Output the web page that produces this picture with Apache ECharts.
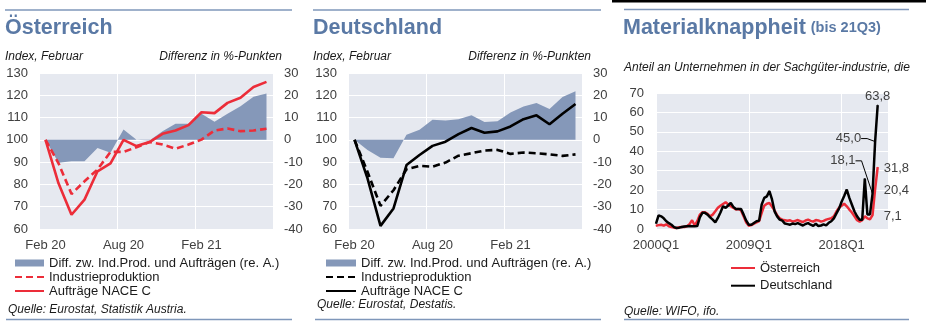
<!DOCTYPE html>
<html><head><meta charset="utf-8">
<script src="https://cdn.jsdelivr.net/npm/echarts@6/dist/echarts.min.js"></script>
<style>html,body{margin:0;padding:0;background:#fff}#c{width:926px;height:326px}</style>
</head><body><div id="c"></div>
<script>
// ---------- data ----------
const months = ['Feb 20','Mär 20','Apr 20','Mai 20','Jun 20','Jul 20','Aug 20','Sep 20','Okt 20','Nov 20','Dez 20','Jän 21','Feb 21','Mär 21','Apr 21','Mai 21','Jun 21','Jul 21'];
const monthTicks = ['Feb 20','Aug 20','Feb 21'];

const atOrders = [100, 80.5, 66.4, 73.2, 85.9, 89.4, 100, 97.2, 99, 102.7, 104.2, 106.6, 112.4, 112, 116.6, 118.9, 123.7, 126];
const atProd   = [100, 89.5, 75.7, 81.4, 86.7, 94.6, 94.6, 96.7, 99, 97.9, 96, 97.9, 100.1, 104.2, 105.1, 103.9, 104.2, 105];
const atDiff   = [0, -10.3, -9.6, -9.6, -3.6, -5.8, 4.6, 0.1, -0.3, 3.9, 7.2, 7.2, 11.7, 8.1, 11.7, 15.1, 19.3, 20.8];

const deOrders = [100, 82.7, 61.4, 69.2, 88.7, 93.2, 97.3, 99.2, 102.6, 105.3, 103.2, 103.8, 106, 109.3, 111, 107, 111.7, 116.1];
const deProd   = [100, 85.7, 70.4, 77.4, 86.8, 88.3, 88, 89.8, 92.9, 94, 95.2, 95.5, 93.7, 94.3, 94, 93.5, 92.8, 93.5];
const deDiff   = [0, -4.5, -8, -8.3, 2.3, 4.5, 9, 8.7, 9.3, 11, 8, 8.3, 12.3, 15, 16.5, 13.8, 19.2, 21.8];

const leftAxisTicks = [60, 130, 10];   // min, max, step
const rightAxisTicks = [-40, 30, 10];

// quarters 2000Q1 .. 2022Q3 (axis extends past last observation 2021Q3)
const quarters = [];
for (let y = 2000; y <= 2022; y++) for (let q = 1; q <= 4; q++) { if (y === 2022 && q > 3) break; quarters.push(y + 'Q' + q); }
const quarterTicks = ['2000Q1','2009Q1','2018Q1'];

const matAT = [1.7, 2, 2.2, 1.7, 2.4, 1.4, 1, 0.7, 0.5, 0.9,
  1, 1, 1.4, 2.5, 4.5, 1.8, 4, 7.4, 8.6, 8.6,
  7.8, 6.5, 7.4, 9.1, 10.9, 12, 12.9, 13.8, 12.6, 11.7,
  10.9, 10, 10.3, 9.5, 6.5, 3.4, 1.7, 2, 2.8, 3.4,
  4, 8.3, 12, 13, 13.4, 11.5, 9.5, 7, 5.5, 4.8,
  4.5, 4.2, 4.5, 3.8, 4.2, 4.6, 4.0, 3.6, 4.4, 4.8,
  4.2, 3.8, 4.6, 4.4, 3.8, 4.2, 4.8, 5.2, 5.5, 6.5,
  9, 11, 12, 13, 11.7, 10, 8.5, 6.5, 4.5, 3.8,
  4.5, 6.5, 5.5, 5, 7.1, 20.4, 31.8];
const matDE = [2.8, 7, 6.5, 5.5, 4, 3, 2.2, 1, 0.5, 0.7,
  1, 1.3, 1.4, 1.5, 1.4, 1.4, 1.5, 6, 8.3, 8.3,
  7.4, 6, 4.8, 3.4, 5.7, 8.5, 11.7, 10.9, 12.1, 13.4,
  11.4, 10.3, 10.3, 10.3, 7.4, 4.3, 2.2, 2.2, 3.1, 4,
  4.3, 12.6, 16, 16.8, 19.5, 15.2, 9.1, 6.5, 4.8, 4.3,
  2.8, 2.5, 2.2, 2.8, 2.5, 3.0, 2.4, 1.8, 2.6, 3.0,
  2.2, 1.6, 2.7, 1.5, 1.8, 2.4, 1.9, 3.2, 4, 5.5,
  8, 10.5, 14, 17, 20.3, 16, 12.5, 9, 6.5, 4.8,
  4.8, 26, 7.5, 7.5, 18.1, 45.0, 63.8];
const matTicks = [0, 70, 10];

const namesDiff = 'Diff. zw. Ind.Prod. und Aufträgen (re. A.)';
const nameProd = 'Industrieproduktion';
const nameOrd = 'Aufträge NACE C';

// ---------- style ----------
const FONT = '"Liberation Sans", Arial, sans-serif';
const RED = '#ec2d39';
const AREA = '#8598b9';
const BG = '#e6e9f0';
const TITLE = '#5a79a5';
const RULE = '#7f97ba';
const AX = '#404040';

const chart = echarts.init(document.getElementById('c'), null, {renderer: 'canvas'});
const fmt = v => v.toFixed(1).replace('.', ',');

function grid(left, top, width, height) {
  return {left, top, width, height, show: true, backgroundColor: BG, borderWidth: 0, containLabel: false, outerBoundsMode: 'none'};
}
function catAxis(gi, data, interval, boundaryGap) {
  return {type: 'category', gridIndex: gi, data, boundaryGap,
    axisLine: {show: false}, axisTick: {show: false},
    axisLabel: {interval, color: AX, fontSize: 13, fontFamily: FONT, margin: 10},
    splitLine: {show: true, interval, lineStyle: {color: '#ffffff', width: 1}}};
}
function valAxis(gi, t, position, split) {
  return {type: 'value', gridIndex: gi, min: t[0], max: t[1], interval: t[2], position,
    axisLine: {show: false}, axisTick: {show: false},
    axisLabel: {color: AX, fontSize: 13, fontFamily: FONT, margin: 11},
    splitLine: {show: split, lineStyle: {color: '#ffffff', width: 1}}};
}
function areaSeries(name, gi, data) {
  return {name, type: 'line', xAxisIndex: gi, yAxisIndex: gi * 2 + 1, data, symbol: 'none',
    itemStyle: {color: AREA}, lineStyle: {width: 0, color: AREA},
    areaStyle: {color: AREA, opacity: 1}, z: 1, silent: true};
}
function lineSeries(name, gi, data, color, dashed) {
  return {name, type: 'line', xAxisIndex: gi, yAxisIndex: gi * 2, data, symbol: 'none',
    itemStyle: {color}, lineStyle: {color, width: 2.6, type: dashed ? [7, 4] : 'solid'}, z: 3, silent: true};
}

const txt = (text, left, top, size, extra) => ({text, left, top, padding: 0,
  textStyle: Object.assign({fontFamily: FONT, fontSize: size, fontWeight: 'normal', color: '#1a1a1a'}, extra || {})});
const txtR = (text, right, top, size, extra) => ({text, right, top, padding: 0,
  textStyle: Object.assign({fontFamily: FONT, fontSize: size, fontWeight: 'normal', color: '#1a1a1a'}, extra || {})});

const titles = [
  txt('Österreich', 5, 17, 21.5, {fontWeight: 'bold', color: TITLE}),
  txt('Index, Februar', 5, 51, 12, {fontStyle: 'italic'}),
  txtR('Differenz in %-Punkten', 644, 51, 12, {fontStyle: 'italic'}),
  txt('Quelle: Eurostat, Statistik Austria.', 8, 304, 12, {fontStyle: 'italic'}),

  txt('Deutschland', 313, 17, 21.5, {fontWeight: 'bold', color: TITLE}),
  txt('Index, Februar', 313, 51, 12, {fontStyle: 'italic'}),
  txtR('Differenz in %-Punkten', 335, 51, 12, {fontStyle: 'italic'}),
  txt('Quelle: Eurostat, Destatis.', 317, 299, 12, {fontStyle: 'italic'}),

  {text: '{a|Materialknappheit} {b|(bis 21Q3)}', left: 623, top: 17, padding: 0,
    textStyle: {fontFamily: FONT, rich: {
      a: {fontFamily: FONT, fontSize: 21.5, fontWeight: 'bold', color: TITLE},
      b: {fontFamily: FONT, fontSize: 14.5, fontWeight: 'bold', color: TITLE}}}},
  txt('Anteil an Unternehmen in der Sachgüter-industrie, die', 624, 62, 12, {fontStyle: 'italic'}),
  txt('Quelle: WIFO, ifo.', 624, 306, 12, {fontStyle: 'italic'})
];

const lastIdx = matDE.length - 1;
const deMatData = matDE.map((v, i) => i < lastIdx - 2 ? v : {
  value: v,
  label: {show: true, position: i === lastIdx ? 'top' : 'left', distance: 2},
  labelLine: {show: i !== lastIdx}
});
const atMatData = matAT.map((v, i) => i < lastIdx - 2 ? v : {
  value: v, label: {show: true, position: 'right', distance: 6}
});

const noSym = {opacity: 0};
const legendText = {fontFamily: FONT, fontSize: 13, color: '#1a1a1a', lineHeight: 14};

const option = {
  animation: false,
  textStyle: {fontFamily: FONT},
  title: titles,
  grid: [grid(39, 73, 234, 156), grid(348, 73, 234, 156), grid(656, 93, 232, 136)],
  xAxis: [catAxis(0, months, 5, true), catAxis(1, months, 5, true), catAxis(2, quarters, 35, false)],
  yAxis: [
    valAxis(0, leftAxisTicks, 'left', true), valAxis(0, rightAxisTicks, 'right', false),
    valAxis(1, leftAxisTicks, 'left', true), valAxis(1, rightAxisTicks, 'right', false),
    Object.assign(valAxis(2, matTicks, 'left', true), {axisLabel: {color: AX, fontSize: 13, fontFamily: FONT, margin: 12}})
  ],
  legend: [
    {left: 14, top: 256, orient: 'vertical', itemWidth: 29, itemHeight: 7, itemGap: 0, padding: 0, selectedMode: false,
      textStyle: legendText,
      data: [{name: namesDiff, icon: 'rect'}, {name: nameProd, itemStyle: noSym}, {name: nameOrd, itemStyle: noSym}]},
    {left: 325, top: 256, orient: 'vertical', itemWidth: 30, itemHeight: 7, itemGap: 0, padding: 0, selectedMode: false,
      textStyle: legendText,
      data: [{name: namesDiff + ' ', icon: 'rect'}, {name: nameProd + ' ', itemStyle: noSym}, {name: nameOrd + ' ', itemStyle: noSym}]},
    {left: 730, top: 261, orient: 'vertical', itemWidth: 24, itemHeight: 7, itemGap: 3.7, padding: 0, selectedMode: false,
      textStyle: legendText,
      data: [{name: 'Österreich', itemStyle: noSym}, {name: 'Deutschland', itemStyle: noSym}]}
  ],
  series: [
    areaSeries(namesDiff, 0, atDiff),
    lineSeries(nameProd, 0, atProd, RED, true),
    lineSeries(nameOrd, 0, atOrders, RED, false),
    areaSeries(namesDiff + ' ', 1, deDiff),
    lineSeries(nameProd + ' ', 1, deProd, '#000000', true),
    lineSeries(nameOrd + ' ', 1, deOrders, '#000000', false),
    {name: 'Österreich', type: 'line', xAxisIndex: 2, yAxisIndex: 4, data: atMatData,
      symbol: 'circle', symbolSize: 1, showSymbol: true, showAllSymbol: true,
      itemStyle: {color: RED}, lineStyle: {color: RED, width: 2.5}, z: 3, silent: true,
      label: {show: false, color: AX, fontSize: 13, fontFamily: FONT, formatter: p => fmt(p.value)},
      labelLayout: function (p) {
        const endX = chart.convertToPixel({xAxisIndex: 2}, quarters[lastIdx]);
        return {x: endX + 6, y: p.rect.y + p.rect.height / 2 + 1, align: 'left', verticalAlign: 'middle'};
      }},
    {name: 'Deutschland', type: 'line', xAxisIndex: 2, yAxisIndex: 4, data: deMatData,
      symbol: 'circle', symbolSize: 1, showSymbol: true, showAllSymbol: true,
      itemStyle: {color: '#000'}, lineStyle: {color: '#000', width: 2.5}, z: 4, silent: true,
      label: {show: false, color: AX, fontSize: 13, fontFamily: FONT, formatter: p => fmt(p.value)},
      labelLine: {show: true, length2: 6, lineStyle: {color: '#000', width: 1}},
      labelLayout: function (p) {
        const cx = p.rect.x + p.rect.width / 2, cy = p.rect.y + p.rect.height / 2;
        if (p.dataIndex === lastIdx - 1) return {x: cx - 14, y: cy - 3, align: 'right', verticalAlign: 'middle'};
        if (p.dataIndex === lastIdx - 2) return {x: cx - 17, y: cy - 33, align: 'right', verticalAlign: 'middle'};
        return {};
      }}
  ],
  graphic: [
    {type: 'line', shape: {x1: 5, y1: 10, x2: 292, y2: 10}, style: {stroke: RULE, lineWidth: 1.3}},
    {type: 'line', shape: {x1: 313, y1: 10, x2: 601, y2: 10}, style: {stroke: RULE, lineWidth: 1.3}},
    {type: 'line', shape: {x1: 624, y1: 9.5, x2: 909, y2: 9.5}, style: {stroke: RULE, lineWidth: 1.3}},
    {type: 'rect', shape: {x: 612, y: 0, width: 314, height: 2.5}, style: {fill: '#000'}},
    {type: 'line', shape: {x1: 6, y1: 319.5, x2: 292, y2: 319.5}, style: {stroke: RULE, lineWidth: 1.3}},
    {type: 'line', shape: {x1: 315, y1: 319.5, x2: 601, y2: 319.5}, style: {stroke: RULE, lineWidth: 1.3}},
    {type: 'line', shape: {x1: 624, y1: 319.5, x2: 909, y2: 319.5}, style: {stroke: RULE, lineWidth: 1.3}}
  ]
};
chart.setOption(option);
</script></body></html>
